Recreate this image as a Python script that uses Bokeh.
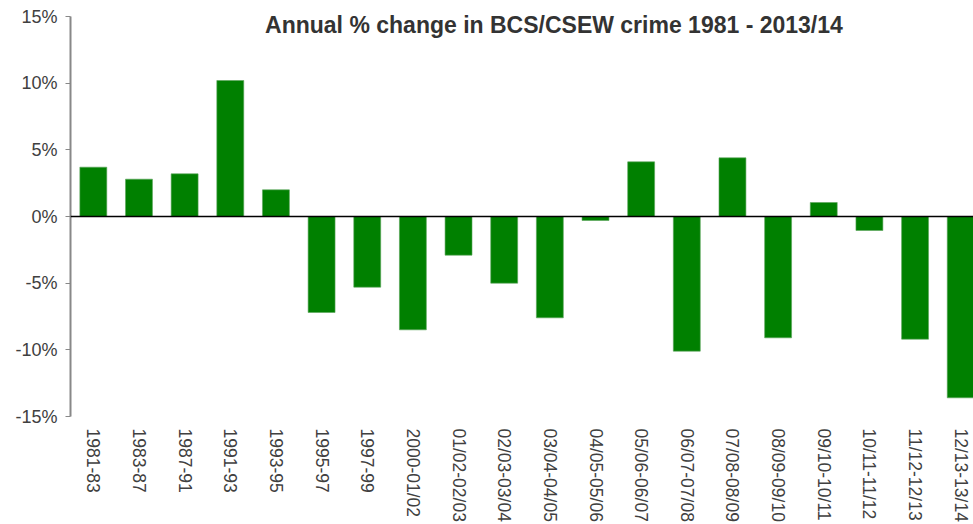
import math
from bokeh.plotting import figure
from bokeh.models import Range1d, FixedTicker, PrintfTickFormatter, Span, Label, ColumnDataSource
from bokeh.embed import file_html
from bokeh.resources import INLINE

categories = ["1981-83", "1983-87", "1987-91", "1991-93", "1993-95", "1995-97", "1997-99",
              "2000-01/02", "01/02-02/03", "02/03-03/04", "03/04-04/05", "04/05-05/06",
              "05/06-06/07", "06/07-07/08", "07/08-08/09", "08/09-09/10", "09/10-10/11",
              "10/11-11/12", "11/12-12/13", "12/13-13/14"]
pct_change = [3.7, 2.8, 3.2, 10.2, 2.0, -7.2, -5.3, -8.5, -2.9, -5.0, -7.6, -0.3,
              4.1, -10.1, 4.4, -9.1, 1.05, -1.05, -9.2, -13.6]
y_ticks = [-15, -10, -5, 0, 5, 10, 15]
title_text = "Annual % change in BCS/CSEW crime 1981 - 2013/14"

positions = list(range(len(categories)))
src = ColumnDataSource(dict(x=positions, top=pct_change, cat=categories))

p = figure(width=973, height=524, output_backend="svg", toolbar_location=None,
           x_range=Range1d(-0.5, 19.28), y_range=Range1d(-15, 16.2),
           min_border_left=70, min_border_right=0, min_border_top=0, min_border_bottom=106)
p.outline_line_color = None
p.xgrid.visible = False
p.ygrid.visible = False
p.background_fill_color = "white"
p.border_fill_color = "white"

p.vbar(x="x", top="top", bottom=0, width=0.59, source=src,
       fill_color="#008000", line_color="#5aa55a", line_width=0.6)

p.add_layout(Span(location=0, dimension="width", line_color="black", line_width=1.5))

# y axis
ya = p.yaxis[0]
ya.ticker = FixedTicker(ticks=y_ticks)
ya.bounds = (-15, 15)
ya.formatter = PrintfTickFormatter(format="%d%%")
ya.axis_line_color = "#888888"
ya.axis_line_width = 2
ya.major_tick_line_color = "#888888"
ya.major_tick_out = 5
ya.major_tick_in = 0
ya.minor_tick_line_color = None
ya.minor_tick_out = 0
ya.major_label_text_font = "Liberation Sans"
ya.major_label_text_font_size = "18px"
ya.major_label_text_color = "#404040"
ya.major_label_standoff = 8

# x axis
xa = p.xaxis[0]
xa.ticker = FixedTicker(ticks=positions)
xa.major_label_overrides = {i: c for i, c in zip(positions, categories)}
xa.major_label_orientation = -math.pi / 2
xa.axis_line_color = None
xa.major_tick_line_color = None
xa.minor_tick_line_color = None
xa.major_tick_out = 0
xa.major_tick_in = 0
xa.minor_tick_out = 0
xa.minor_tick_in = 0
xa.major_label_text_font = "Liberation Sans"
xa.major_label_text_font_size = "17.5px"
xa.major_label_text_color = "#404040"
xa.major_label_standoff = 12

p.add_layout(Label(x=10.09, y=14.33, text=title_text, text_align="center",
                   text_baseline="alphabetic", text_font="Liberation Sans",
                   text_font_style="bold", text_font_size="23px", text_color="#333333"))

open("out.html", "w").write(file_html(p, INLINE))
